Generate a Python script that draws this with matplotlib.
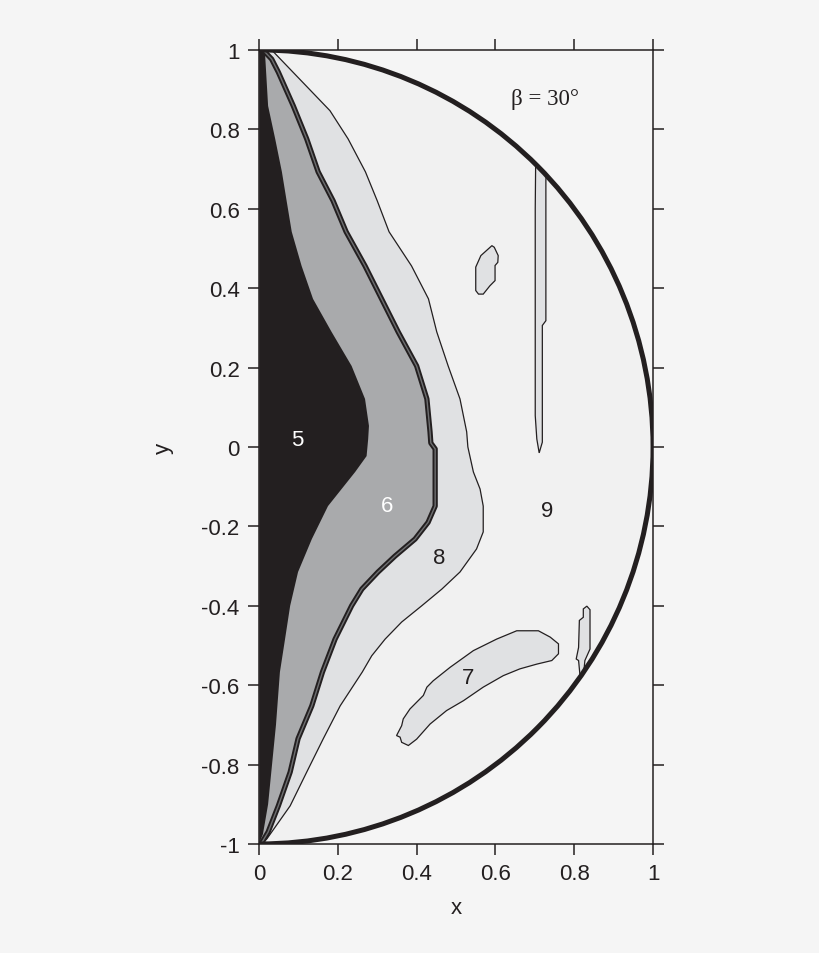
import numpy as np
import matplotlib
matplotlib.use("Agg")
import matplotlib.pyplot as plt
from matplotlib.patches import Wedge, Arc, Polygon

# --- contour boundaries (top -> bottom) ---
# edge of level 5 (black) region
b5_x = [0.000, 0.015, 0.023, 0.041, 0.058, 0.070, 0.083, 0.108, 0.137, 0.184, 0.235,
        0.269, 0.279, 0.277, 0.273, 0.244, 0.175, 0.134, 0.099, 0.079, 0.066, 0.053,
        0.043, 0.033, 0.023, 0.010, 0.000]
b5_y = [1.000, 0.995, 0.859, 0.776, 0.693, 0.620, 0.542, 0.456, 0.373, 0.290, 0.204,
        0.121, 0.053, 0.020, -0.023, -0.063, -0.149, -0.232, -0.315, -0.400, -0.484, -0.567,
        -0.700, -0.800, -0.900, -0.975, -1.000]

# edge of level 6 (mid grey) region, drawn as the double line
b6_x = [0.010, 0.032, 0.049, 0.087, 0.121, 0.150, 0.188, 0.221, 0.269, 0.311, 0.353,
        0.400, 0.426, 0.434, 0.436, 0.447, 0.447, 0.429, 0.396, 0.345, 0.302, 0.261,
        0.235, 0.193, 0.161, 0.134, 0.099, 0.079, 0.049, 0.023, 0.005]
b6_y = [1.000, 0.977, 0.944, 0.859, 0.776, 0.693, 0.620, 0.542, 0.456, 0.373, 0.290,
        0.204, 0.121, 0.038, 0.010, -0.005, -0.149, -0.190, -0.232, -0.275, -0.315, -0.358,
        -0.400, -0.484, -0.567, -0.652, -0.735, -0.819, -0.904, -0.970, -1.000]

# edge of level 8 (light grey) band
b8_x = [0.032, 0.180, 0.226, 0.270, 0.300, 0.330, 0.387, 0.430, 0.451, 0.480, 0.510,
        0.527, 0.530, 0.544, 0.561, 0.569, 0.569, 0.552, 0.510, 0.464, 0.413, 0.362,
        0.320, 0.286, 0.262, 0.206, 0.163, 0.121, 0.079, 0.020, 0.005]
b8_y = [1.000, 0.847, 0.776, 0.693, 0.620, 0.542, 0.456, 0.373, 0.290, 0.204, 0.121,
        0.038, 0.000, -0.063, -0.106, -0.149, -0.214, -0.257, -0.315, -0.358, -0.400, -0.441,
        -0.484, -0.526, -0.567, -0.652, -0.735, -0.819, -0.904, -0.987, -1.000]

# islands
isl7_x = [0.349, 0.362, 0.366, 0.383, 0.417, 0.426, 0.442, 0.485, 0.544, 0.603, 0.654,
          0.709, 0.739, 0.760, 0.760, 0.743, 0.705, 0.662, 0.620, 0.569, 0.519, 0.476,
          0.434, 0.400, 0.379, 0.362, 0.358]
isl7_y = [-0.727, -0.702, -0.685, -0.660, -0.626, -0.605, -0.589, -0.555, -0.513, -0.484, -0.463,
          -0.463, -0.479, -0.496, -0.521, -0.538, -0.547, -0.559, -0.576, -0.605, -0.639, -0.664,
          -0.698, -0.736, -0.752, -0.744, -0.731]

isl_top_x = [0.550, 0.563, 0.591, 0.597, 0.607, 0.606, 0.599, 0.599, 0.586, 0.569, 0.557, 0.550]
isl_top_y = [0.453, 0.482, 0.507, 0.503, 0.482, 0.465, 0.457, 0.419, 0.406, 0.385, 0.385, 0.394]

strip_x = [0.702, 0.701, 0.701, 0.705, 0.711, 0.719, 0.719, 0.728, 0.728, 0.730]
strip_y = [0.710, 0.600, 0.079, 0.020, -0.015, 0.012, 0.306, 0.318, 0.671, 0.710]

sliver_x = [0.823, 0.832, 0.840, 0.840, 0.827, 0.823, 0.815, 0.811, 0.805, 0.811, 0.813, 0.823]
sliver_y = [-0.408, -0.401, -0.410, -0.509, -0.538, -0.580, -0.580, -0.538, -0.534, -0.505, -0.437, -0.429]

# level labels
lab_text = ["5", "6", "8", "7", "9"]
lab_x = [0.097, 0.324, 0.458, 0.531, 0.731]
lab_y = [0.020, -0.148, -0.278, -0.580, -0.161]
lab_col = ["white", "white", "#231f20", "#231f20", "#231f20"]

xticks = [0, 0.2, 0.4, 0.6, 0.8, 1]
xticklabels = ["0", "0.2", "0.4", "0.6", "0.8", "1"]
yticks = [-1, -0.8, -0.6, -0.4, -0.2, 0, 0.2, 0.4, 0.6, 0.8, 1]
yticklabels = ["-1", "-0.8", "-0.6", "-0.4", "-0.2", "0", "0.2", "0.4", "0.6", "0.8", "1"]

BG = "#f5f5f5"
C9 = "#f1f1f1"
C8 = "#e0e1e3"
C6 = "#a9aaac"
C5 = "#231f20"
INK = "#231f20"

plt.rcParams["font.family"] = ["Liberation Sans", "DejaVu Sans"]

fig = plt.figure(figsize=(8.2, 9.54), dpi=100, facecolor=BG)
ax = fig.add_axes([0.3159, 0.1143, 0.4805, 0.8323])
ax.set_facecolor(BG)

disk = Wedge((0, 0), 1, -90, 90, facecolor=C9, edgecolor="none", zorder=1)
ax.add_patch(disk)


def region(xs, ys, color, z):
    # close the band against the x = 0 edge
    pts = np.column_stack([np.r_[0, xs, 0], np.r_[1, ys, -1]])
    p = Polygon(pts, closed=True, facecolor=color, edgecolor="none", zorder=z)
    ax.add_patch(p)
    p.set_clip_path(disk)


def island(xs, ys):
    p = Polygon(np.column_stack([xs, ys]), closed=True, facecolor=C8,
                edgecolor=INK, lw=0.9, zorder=2)
    ax.add_patch(p)
    p.set_clip_path(disk)


region(b8_x, b8_y, C8, 2)
region(b6_x, b6_y, C6, 3)
region(b5_x, b5_y, C5, 4)

for xs, ys in [(isl7_x, isl7_y), (isl_top_x, isl_top_y), (strip_x, strip_y), (sliver_x, sliver_y)]:
    island(xs, ys)

ax.plot(b8_x, b8_y, color=INK, lw=0.9, zorder=5)
ax.plot(b6_x, b6_y, color=INK, lw=3.8, zorder=6)
ax.plot(b6_x, b6_y, color="#6e6f71", lw=1.0, zorder=6)

ax.add_patch(Arc((0, 0), 2, 2, theta1=-90, theta2=90, color=INK, lw=3.6, zorder=7))

for t, x, y, c in zip(lab_text, lab_x, lab_y, lab_col):
    ax.text(x, y, t, color=c, fontsize=16, ha="center", va="center", zorder=8)

ax.text(0.726, 0.877, "β = 30°", family=["Liberation Serif", "DejaVu Serif"],
        fontsize=16.5, color=INK, ha="center", va="center", zorder=8)

ax.set_xlim(0, 1)
ax.set_ylim(-1, 1)
ax.set_xticks(xticks)
ax.set_xticklabels(xticklabels)
ax.set_yticks(yticks)
ax.set_yticklabels(yticklabels)
ax.tick_params(direction="out", length=8, width=1.1, top=True, right=True,
               labelsize=16, pad=6, colors=INK)
for s in ax.spines.values():
    s.set_linewidth(1.1)
    s.set_color(INK)
ax.set_xlabel("x", fontsize=16, color=INK, labelpad=9)
ax.set_ylabel("y", fontsize=16, color=INK, labelpad=20)

fig.savefig("out.png", dpi=100, facecolor=BG)
